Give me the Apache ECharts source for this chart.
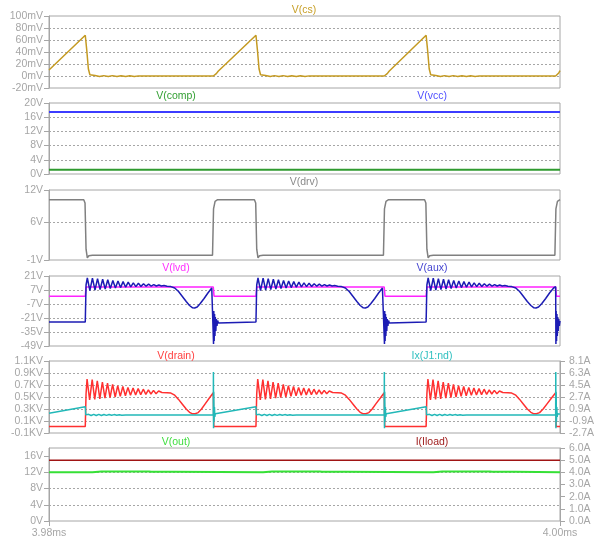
<!DOCTYPE html>
<html>
<head>
<meta charset="utf-8">
<script src="https://cdn.jsdelivr.net/npm/echarts@6/dist/echarts.min.js"></script>
<style>
  html, body { margin: 0; padding: 0; background: #ffffff; }
  #chart { width: 602px; height: 540px; }
</style>
</head>
<body>
<div id="chart"></div>
<script>
// ---- Transient waveforms, time in microseconds (3980 us .. 4000 us) ----

// V(cs) in mV
const vCs = [
  [3980.00, 10], [3981.42, 68], [3981.48, 42], [3981.54, 12], [3981.60, 2], [3981.66, -0.5],
  [3981.80, 0.8], [3981.98, -1], [3982.14, 0.6], [3982.32, -1], [3982.48, 0.6], [3982.66, -1],
  [3982.82, 0.5], [3983.00, -0.9], [3983.16, 0.4], [3983.34, -0.8], [3983.50, 0.2], [3983.60, 0],
  [3986.43, 0], [3986.45, 3], [3986.55, 4], [3986.62, 8],
  [3988.10, 68], [3988.16, 42], [3988.22, 12], [3988.28, 2], [3988.34, -0.5],
  [3988.48, 0.8], [3988.66, -1], [3988.82, 0.6], [3989.00, -1], [3989.16, 0.6], [3989.34, -1],
  [3989.50, 0.5], [3989.68, -0.9], [3989.84, 0.4], [3990.02, -0.8], [3990.18, 0.2], [3990.28, 0],
  [3993.12, 0], [3993.14, 3], [3993.24, 4], [3993.31, 8],
  [3994.76, 68], [3994.82, 42], [3994.88, 12], [3994.94, 2], [3995.00, -0.5],
  [3995.14, 0.8], [3995.32, -1], [3995.48, 0.6], [3995.66, -1], [3995.82, 0.6], [3996.00, -1],
  [3996.16, 0.5], [3996.34, -0.9], [3996.50, 0.4], [3996.68, -0.8], [3996.84, 0.2], [3996.94, 0],
  [3999.83, 0], [3999.85, 3], [3999.95, 5], [4000.00, 9]
];

// V(comp) and V(vcc) in V
const vComp = [[3980, 1.2], [4000, 1.2]];
const vVcc = [[3980, 17.5], [4000, 17.5]];

// V(drv) in V
const vDrv = [
  [3980.00, 10.2], [3981.36, 10.2], [3981.41, 9.6], [3981.45, 1.0], [3981.50, -0.6], [3981.56, -0.2], [3981.70, -0.1],
  [3986.40, -0.1], [3986.44, 8.5], [3986.50, 9.9], [3986.60, 10.2],
  [3988.04, 10.2], [3988.09, 9.6], [3988.13, 1.0], [3988.18, -0.6], [3988.24, -0.2], [3988.38, -0.1],
  [3993.09, -0.1], [3993.13, 8.5], [3993.19, 9.9], [3993.29, 10.2],
  [3994.70, 10.2], [3994.75, 9.6], [3994.79, 1.0], [3994.84, -0.6], [3994.90, -0.2], [3995.04, -0.1],
  [3999.80, -0.1], [3999.84, 8.5], [3999.90, 9.9], [4000.00, 10.2]
];

// V(lvd) in V
const vLvd = [
  [3980, 0.7], [3981.42, 0.7], [3981.45, 10], [3986.43, 10], [3986.46, 0.7],
  [3988.10, 0.7], [3988.13, 10], [3993.12, 10], [3993.15, 0.7],
  [3994.76, 0.7], [3994.79, 10], [3999.83, 10], [3999.86, 0.7], [4000, 0.7]
];

// V(aux) in V
const vAux = [
  [3980.00, -25], [3981.42, -25],
  [3981.45, 12], [3981.50, 19], [3981.60, 6.5], [3981.70, 18.8], [3981.80, 7], [3981.90, 18.3], [3982.00, 7.5],
  [3982.10, 17.8], [3982.20, 8], [3982.30, 17.2], [3982.40, 8.5], [3982.50, 16.6], [3982.60, 9], [3982.70, 16],
  [3982.80, 9.4], [3982.90, 15.4], [3983.00, 9.8], [3983.10, 14.8], [3983.20, 10.1], [3983.30, 14.2], [3983.40, 10.4],
  [3983.50, 13.7], [3983.60, 10.6], [3983.70, 13.2], [3983.80, 10.8], [3983.90, 12.8], [3984.00, 10.9], [3984.10, 12.4],
  [3984.20, 11], [3984.30, 12], [3984.40, 11], [3984.50, 11.6], [3984.62, 10.8], [3984.77, 10.4],
  [3984.92, 9], [3985.07, 5.5], [3985.22, 0.5], [3985.37, -4.5], [3985.50, -8.5], [3985.62, -10.8], [3985.70, -11],
  [3985.80, -10], [3985.92, -6.5], [3986.07, -1.5], [3986.22, 4], [3986.37, 9], [3986.43, 10.3],
  [3986.44, -47], [3986.45, -14], [3986.465, -44], [3986.48, -17], [3986.495, -39], [3986.51, -20], [3986.53, -34],
  [3986.55, -22], [3986.575, -29], [3986.60, -23.5], [3986.63, -26], [3986.67, -25],
  [3988.10, -25],
  [3988.13, 12], [3988.18, 19], [3988.28, 6.5], [3988.38, 18.8], [3988.48, 7], [3988.58, 18.3], [3988.68, 7.5],
  [3988.78, 17.8], [3988.88, 8], [3988.98, 17.2], [3989.08, 8.5], [3989.18, 16.6], [3989.28, 9], [3989.38, 16],
  [3989.48, 9.4], [3989.58, 15.4], [3989.68, 9.8], [3989.78, 14.8], [3989.88, 10.1], [3989.98, 14.2], [3990.08, 10.4],
  [3990.18, 13.7], [3990.28, 10.6], [3990.38, 13.2], [3990.48, 10.8], [3990.58, 12.8], [3990.68, 10.9], [3990.78, 12.4],
  [3990.88, 11], [3990.98, 12], [3991.08, 11], [3991.18, 11.6], [3991.30, 10.8], [3991.45, 10.4],
  [3991.60, 9], [3991.75, 5.5], [3991.90, 0.5], [3992.05, -4.5], [3992.18, -8.5], [3992.30, -10.8], [3992.38, -11],
  [3992.48, -10], [3992.60, -6.5], [3992.75, -1.5], [3992.90, 4], [3993.05, 9], [3993.12, 10.3],
  [3993.13, -47], [3993.14, -14], [3993.155, -44], [3993.17, -17], [3993.185, -39], [3993.20, -20], [3993.22, -34],
  [3993.24, -22], [3993.265, -29], [3993.29, -23.5], [3993.32, -26], [3993.36, -25],
  [3994.76, -25],
  [3994.79, 12], [3994.84, 19], [3994.94, 6.5], [3995.04, 18.8], [3995.14, 7], [3995.24, 18.3], [3995.34, 7.5],
  [3995.44, 17.8], [3995.54, 8], [3995.64, 17.2], [3995.74, 8.5], [3995.84, 16.6], [3995.94, 9], [3996.04, 16],
  [3996.14, 9.4], [3996.24, 15.4], [3996.34, 9.8], [3996.44, 14.8], [3996.54, 10.1], [3996.64, 14.2], [3996.74, 10.4],
  [3996.84, 13.7], [3996.94, 10.6], [3997.04, 13.2], [3997.14, 10.8], [3997.24, 12.8], [3997.34, 10.9], [3997.44, 12.4],
  [3997.54, 11], [3997.64, 12], [3997.74, 11], [3997.84, 11.6], [3997.96, 10.8], [3998.11, 10.4],
  [3998.27, 9], [3998.42, 5.5], [3998.57, 0.5], [3998.72, -4.5], [3998.86, -8.5], [3998.98, -10.8], [3999.06, -11],
  [3999.16, -10], [3999.29, -6.5], [3999.44, -1.5], [3999.59, 4], [3999.75, 9], [3999.83, 10.3],
  [3999.84, -47], [3999.85, -14], [3999.865, -44], [3999.88, -17], [3999.895, -39], [3999.91, -20], [3999.93, -34],
  [3999.95, -22], [3999.975, -29], [4000.00, -24]
];

// V(drain) in kV
const vDrain = [
  [3980.00, 0.01], [3981.42, 0.01],
  [3981.45, 0.55], [3981.49, 0.8], [3981.59, 0.45], [3981.69, 0.79], [3981.79, 0.46], [3981.89, 0.77], [3981.99, 0.47],
  [3982.09, 0.75], [3982.19, 0.48], [3982.29, 0.73], [3982.39, 0.49], [3982.49, 0.71], [3982.59, 0.5], [3982.69, 0.69],
  [3982.79, 0.51], [3982.89, 0.675], [3982.99, 0.52], [3983.09, 0.66], [3983.19, 0.53], [3983.29, 0.65], [3983.39, 0.535],
  [3983.49, 0.64], [3983.59, 0.54], [3983.69, 0.63], [3983.79, 0.545], [3983.89, 0.62], [3983.99, 0.55], [3984.09, 0.61],
  [3984.19, 0.555], [3984.29, 0.6], [3984.42, 0.575], [3984.62, 0.57], [3984.77, 0.565],
  [3984.92, 0.53], [3985.07, 0.46], [3985.22, 0.38], [3985.37, 0.3], [3985.50, 0.245], [3985.60, 0.222], [3985.72, 0.22],
  [3985.84, 0.24], [3985.97, 0.3], [3986.12, 0.39], [3986.27, 0.48], [3986.43, 0.57], [3986.45, 0.01],
  [3988.10, 0.01],
  [3988.13, 0.55], [3988.17, 0.8], [3988.27, 0.45], [3988.37, 0.79], [3988.47, 0.46], [3988.57, 0.77], [3988.67, 0.47],
  [3988.77, 0.75], [3988.87, 0.48], [3988.97, 0.73], [3989.07, 0.49], [3989.17, 0.71], [3989.27, 0.5], [3989.37, 0.69],
  [3989.47, 0.51], [3989.57, 0.675], [3989.67, 0.52], [3989.77, 0.66], [3989.87, 0.53], [3989.97, 0.65], [3990.07, 0.535],
  [3990.17, 0.64], [3990.27, 0.54], [3990.37, 0.63], [3990.47, 0.545], [3990.57, 0.62], [3990.67, 0.55], [3990.77, 0.61],
  [3990.87, 0.555], [3990.97, 0.6], [3991.10, 0.575], [3991.30, 0.57], [3991.45, 0.565],
  [3991.60, 0.53], [3991.75, 0.46], [3991.90, 0.38], [3992.05, 0.3], [3992.18, 0.245], [3992.28, 0.222], [3992.40, 0.22],
  [3992.52, 0.24], [3992.65, 0.3], [3992.80, 0.39], [3992.96, 0.48], [3993.12, 0.57], [3993.14, 0.01],
  [3994.76, 0.01],
  [3994.79, 0.55], [3994.83, 0.8], [3994.93, 0.45], [3995.03, 0.79], [3995.13, 0.46], [3995.23, 0.77], [3995.33, 0.47],
  [3995.43, 0.75], [3995.53, 0.48], [3995.63, 0.73], [3995.73, 0.49], [3995.83, 0.71], [3995.93, 0.5], [3996.03, 0.69],
  [3996.13, 0.51], [3996.23, 0.675], [3996.33, 0.52], [3996.43, 0.66], [3996.53, 0.53], [3996.63, 0.65], [3996.73, 0.535],
  [3996.83, 0.64], [3996.93, 0.54], [3997.03, 0.63], [3997.13, 0.545], [3997.23, 0.62], [3997.33, 0.55], [3997.43, 0.61],
  [3997.53, 0.555], [3997.63, 0.6], [3997.76, 0.575], [3997.96, 0.57], [3998.11, 0.565],
  [3998.27, 0.53], [3998.42, 0.46], [3998.57, 0.38], [3998.72, 0.3], [3998.86, 0.245], [3998.96, 0.222], [3999.08, 0.22],
  [3999.20, 0.24], [3999.34, 0.3], [3999.50, 0.39], [3999.66, 0.48], [3999.83, 0.57], [3999.85, 0.01], [4000.00, 0.01]
];

// Ix(J1:nd) in A
const ixJ1 = [
  [3980.00, 0.25], [3981.42, 1.25], [3981.44, 0.02],
  [3981.55, 0.1], [3981.65, -0.08], [3981.75, 0.1], [3981.85, -0.08], [3981.95, 0.09], [3982.05, -0.07], [3982.15, 0.08],
  [3982.25, -0.06], [3982.35, 0.07], [3982.45, -0.05], [3982.55, 0.06], [3982.65, -0.04], [3982.75, 0.05], [3982.85, -0.03],
  [3983.00, 0], [3986.43, 0],
  [3986.435, 6.45], [3986.44, -2.0], [3986.45, 3.5], [3986.46, -1.0], [3986.475, 1.2], [3986.49, -0.3], [3986.51, 0.2],
  [3986.53, 0.08], [3988.10, 1.25], [3988.12, 0.02],
  [3988.23, 0.1], [3988.33, -0.08], [3988.43, 0.1], [3988.53, -0.08], [3988.63, 0.09], [3988.73, -0.07], [3988.83, 0.08],
  [3988.93, -0.06], [3989.03, 0.07], [3989.13, -0.05], [3989.23, 0.06], [3989.33, -0.04], [3989.43, 0.05], [3989.53, -0.03],
  [3989.68, 0], [3993.12, 0],
  [3993.125, 6.45], [3993.13, -2.0], [3993.14, 3.5], [3993.15, -1.0], [3993.165, 1.2], [3993.18, -0.3], [3993.20, 0.2],
  [3993.22, 0.08], [3994.76, 1.25], [3994.78, 0.02],
  [3994.89, 0.1], [3994.99, -0.08], [3995.09, 0.1], [3995.19, -0.08], [3995.29, 0.09], [3995.39, -0.07], [3995.49, 0.08],
  [3995.59, -0.06], [3995.69, 0.07], [3995.79, -0.05], [3995.89, 0.06], [3995.99, -0.04], [3996.09, 0.05], [3996.19, -0.03],
  [3996.34, 0], [3999.83, 0],
  [3999.835, 6.45], [3999.84, -2.0], [3999.85, 3.5], [3999.86, -1.0], [3999.875, 1.2], [3999.89, -0.3], [3999.91, 0.2],
  [3999.93, 0.08], [4000.00, 0.13]
];

// V(out) in V and I(Iload) in A
const vOut = [
  [3980.00, 12.0], [3981.70, 12.0], [3981.75, 12.08], [3982.05, 12.22], [3983.92, 12.22], [3984.00, 12.12],
  [3984.90, 12.12], [3984.96, 12.0], [3988.38, 12.0], [3988.43, 12.08], [3988.73, 12.22], [3990.60, 12.22],
  [3990.68, 12.12], [3991.58, 12.12], [3991.64, 12.0], [3995.04, 12.0], [3995.09, 12.08], [3995.39, 12.22],
  [3997.26, 12.22], [3997.34, 12.12], [3998.24, 12.12], [3998.30, 12.0], [4000.00, 12.0]
];
const iLoad = [[3980, 5.0], [4000, 5.0]];

// ---- Tick values ----
const timeTicks = [3980, 4000];
const csTicks = [-20, 0, 20, 40, 60, 80, 100];
const supplyTicks = [0, 4, 8, 12, 16, 20];
const drvTicks = [-1, 6, 12];
const auxTicks = [-49, -35, -21, -7, 7, 21];
const drainTicks = [-0.1, 0.1, 0.3, 0.5, 0.7, 0.9, 1.1];
const ixTicks = [-2.7, -0.9, 0.9, 2.7, 4.5, 6.3, 8.1];
const outTicks = [0, 4, 8, 12, 16];
const loadTicks = [0, 1, 2, 3, 4, 5, 6];

// ---- Layout & style ----
const GRAY = '#a6a6a6';
const FONT = 'Liberation Sans';
const panels = [
  { top: 16, height: 72 },
  { top: 103, height: 71 },
  { top: 190, height: 70 },
  { top: 276, height: 70 },
  { top: 361, height: 72 },
  { top: 448, height: 73 }
];

const grid = panels.map(p => ({
  left: 49, right: 42, top: p.top, height: p.height,
  show: true, borderColor: GRAY, borderWidth: 1, backgroundColor: 'transparent'
}));

const xAxis = panels.map((p, i) => {
  const last = i === panels.length - 1;
  return {
    type: 'value', gridIndex: i, min: 3980, max: 4000,
    axisLine: { show: false },
    splitLine: { show: false },
    axisTick: { show: last, length: 5, customValues: timeTicks, lineStyle: { color: GRAY } },
    axisLabel: {
      show: last, customValues: timeTicks, margin: 7, color: GRAY,
      fontFamily: FONT, fontSize: 10.5,
      formatter: v => (v / 1000).toFixed(2) + 'ms'
    }
  };
});

function yAxisDef(gridIndex, min, max, ticks, fmt, position, withGrid) {
  const right = position === 'right';
  return {
    type: 'value', gridIndex, min, max, position,
    axisLine: { show: true, lineStyle: { color: GRAY, width: 1 } },
    axisTick: { show: true, length: 5, customValues: ticks, lineStyle: { color: GRAY } },
    axisLabel: {
      customValues: ticks, margin: right ? 9 : 6, color: GRAY,
      fontFamily: FONT, fontSize: 10.5, formatter: fmt
    },
    splitLine: {
      show: withGrid, showMinLine: false, showMaxLine: false,
      lineStyle: { color: GRAY, type: [2, 2], width: 1 }
    }
  };
}

const yAxis = [
  yAxisDef(0, -20, 100, csTicks, v => v + 'mV', 'left', true),
  yAxisDef(1, 0, 20, supplyTicks, v => v + 'V', 'left', true),
  yAxisDef(2, -1, 12, drvTicks, v => v + 'V', 'left', true),
  yAxisDef(3, -49, 21, auxTicks, v => v + 'V', 'left', true),
  yAxisDef(4, -0.1, 1.1, drainTicks, v => v.toFixed(1) + 'KV', 'left', true),
  yAxisDef(4, -2.7, 8.1, ixTicks, v => v.toFixed(1) + 'A', 'right', false),
  yAxisDef(5, 0, 18, outTicks, v => v + 'V', 'left', true),
  yAxisDef(5, 0, 6, loadTicks, v => v.toFixed(1) + 'A', 'right', false)
];

function trace(name, data, xi, yi, color, width) {
  return {
    name, type: 'line', data, xAxisIndex: xi, yAxisIndex: yi,
    showSymbol: false, symbol: 'none', animation: false, silent: true,
    lineStyle: { color, width }
  };
}

const series = [
  trace('V(cs)', vCs, 0, 0, '#c49a22', 1.5),
  trace('V(comp)', vComp, 1, 1, '#2f9a2f', 2),
  trace('V(vcc)', vVcc, 1, 1, '#3c3cff', 2),
  trace('V(drv)', vDrv, 2, 2, '#808080', 1.5),
  trace('V(lvd)', vLvd, 3, 3, '#ff22ff', 1.5),
  trace('V(aux)', vAux, 3, 3, '#1c1cb4', 1.5),
  trace('V(drain)', vDrain, 4, 4, '#ff3030', 1.5),
  trace('Ix(J1:nd)', ixJ1, 4, 5, '#22b8b8', 1.5),
  trace('V(out)', vOut, 5, 6, '#36e036', 2),
  trace('I(Iload)', iLoad, 5, 7, '#a01414', 1.5)
];

// Trace names above each pane
const labels = [
  { text: 'V(cs)', x: 304, y: 10, color: '#c8a028' },
  { text: 'V(comp)', x: 176, y: 96, color: '#34a034' },
  { text: 'V(vcc)', x: 432, y: 96, color: '#5050ff' },
  { text: 'V(drv)', x: 304, y: 182, color: '#8a8a8a' },
  { text: 'V(lvd)', x: 176, y: 268, color: '#ff30ff' },
  { text: 'V(aux)', x: 432, y: 268, color: '#4545d0' },
  { text: 'V(drain)', x: 176, y: 356, color: '#ff4040' },
  { text: 'Ix(J1:nd)', x: 432, y: 356, color: '#30c0c0' },
  { text: 'V(out)', x: 176, y: 442, color: '#40dd40' },
  { text: 'I(Iload)', x: 432, y: 442, color: '#a02020' }
];

const graphic = labels.map(l => ({
  type: 'text', x: l.x, y: l.y, silent: true,
  style: {
    text: l.text, fill: l.color, font: '10.5px "' + FONT + '"',
    textAlign: 'center', textVerticalAlign: 'middle'
  }
}));

const chart = echarts.init(document.getElementById('chart'), null, { renderer: 'canvas' });
chart.setOption({
  animation: false,
  backgroundColor: '#ffffff',
  grid, xAxis, yAxis, series, graphic
});
</script>
</body>
</html>
